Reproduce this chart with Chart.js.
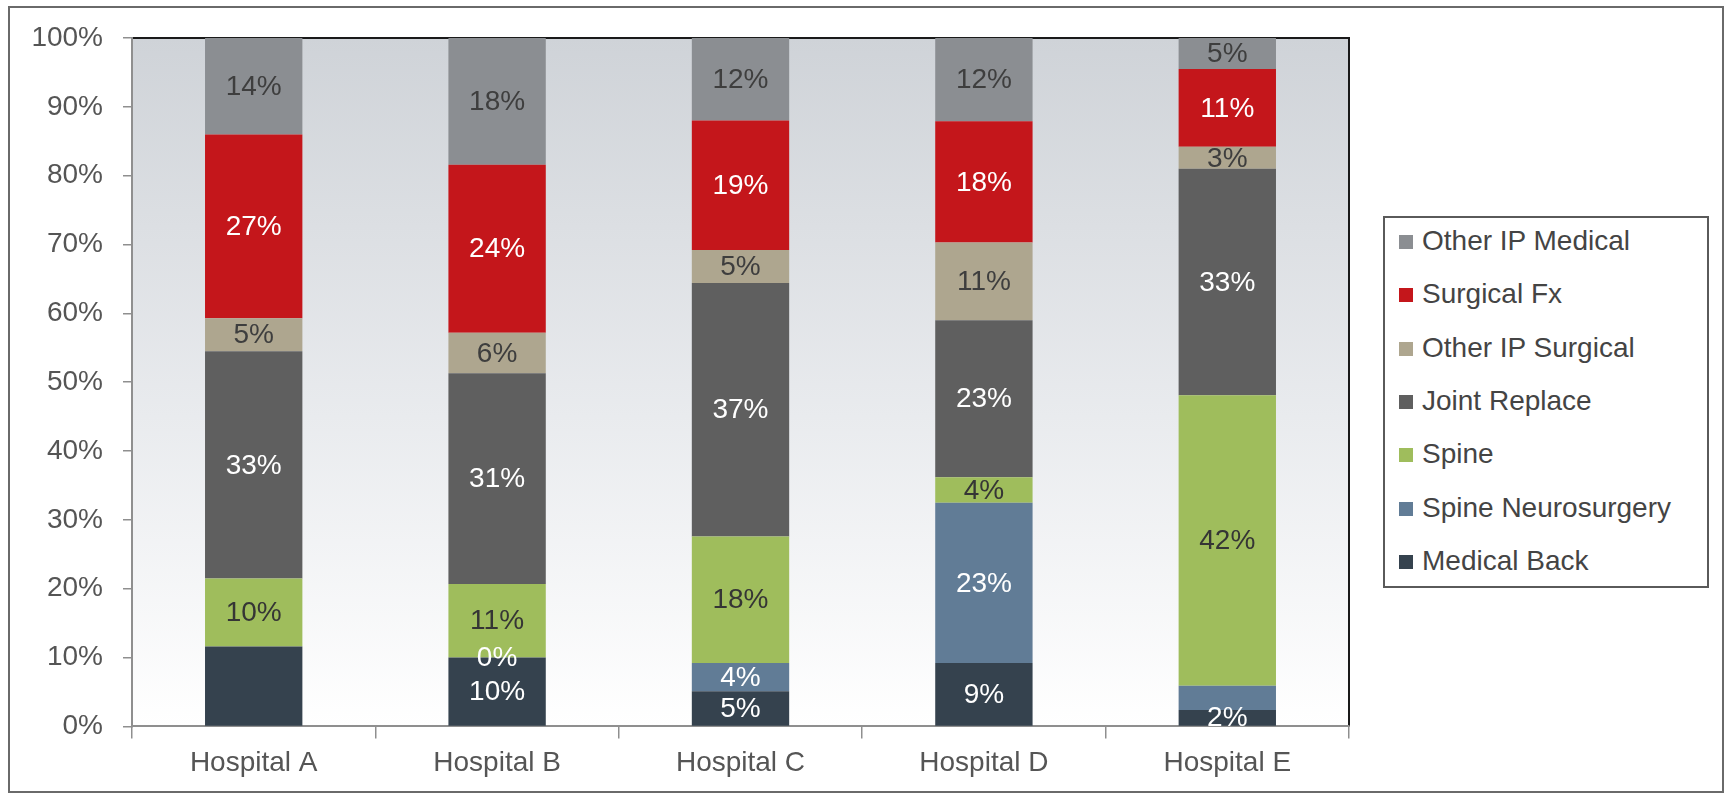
<!DOCTYPE html>
<html>
<head>
<meta charset="utf-8">
<title>Case mix by hospital</title>
<script src="https://cdn.jsdelivr.net/npm/chart.js@4/dist/chart.umd.min.js"></script>
<style>
  body { margin: 0; background: #fff; font-family: "Liberation Sans", Arial, sans-serif; }
  #wrap { position: relative; width: 1731px; height: 795px; }
  #mix { position: absolute; left: 0; top: 0; }
  #frame {
    position: absolute; left: 8px; top: 6px; width: 1716px; height: 787px;
    box-sizing: border-box; border: 2px solid #6a6a6a; pointer-events: none;
  }
  #legend {
    position: absolute; left: 1383px; top: 216px; width: 326px; height: 372px;
    box-sizing: border-box; border: 2px solid #5a5a5a; background: #fff;
  }
  .item { position: absolute; left: 14px; height: 34px; line-height: 34px; font-size: 28px; color: #444; white-space: nowrap; }
  .item span { display: inline-block; width: 14px; height: 14px; margin-right: 9px; vertical-align: 1px; }
</style>
</head>
<body>
<div id="wrap">
  <canvas id="mix" width="1731" height="795"></canvas>
  <div id="frame"></div>
  <div id="legend"></div>
</div>
<script>
const hospitals = ["Hospital A", "Hospital B", "Hospital C", "Hospital D", "Hospital E"];

// share of cases per service line, % of each hospital
const medicalBack = [11.6, 10.0, 5.1, 9.2, 2.4];
const spineNeuro = [0, 0, 4.1, 23.3, 3.5];
const spine = [9.9, 10.7, 18.4, 3.7, 42.2];
const jointReplace = [33.0, 30.6, 36.8, 22.8, 32.9];
const otherSurgical = [4.8, 5.9, 4.8, 11.3, 3.2];
const surgicalFx = [26.7, 24.4, 18.8, 17.6, 11.3];
const otherMedical = [14.0, 18.4, 12.0, 12.1, 4.5];

const yTicks = [0, 10, 20, 30, 40, 50, 60, 70, 80, 90, 100];

// segments that carry no value label
const noLabel = {
  "Medical Back": ["Hospital A"],
  "Spine Neurosurgery": ["Hospital A", "Hospital E"],
};

const FONT = '"Liberation Sans", Arial, sans-serif';

const series = [
  { label: "Medical Back", data: medicalBack, color: "#35424e", text: "#ffffff" },
  { label: "Spine Neurosurgery", data: spineNeuro, color: "#617c96", text: "#ffffff" },
  { label: "Spine", data: spine, color: "#9fbd5c", text: "#353535" },
  { label: "Joint Replace", data: jointReplace, color: "#5f5f5f", text: "#ffffff" },
  { label: "Other IP Surgical", data: otherSurgical, color: "#aea68f", text: "#3e3e3e" },
  { label: "Surgical Fx", data: surgicalFx, color: "#c4161b", text: "#ffffff" },
  { label: "Other IP Medical", data: otherMedical, color: "#8b8e92", text: "#3e3e3e" },
];

// plot background, gray at the top fading to white, plus the top/right frame lines
const plotBackground = {
  id: "plotBackground",
  beforeDraw(chart) {
    const { ctx, chartArea: a } = chart;
    ctx.save();
    ctx.fillStyle = "#fff";
    ctx.fillRect(0, 0, chart.width, chart.height);
    const g = ctx.createLinearGradient(0, a.top, 0, a.bottom);
    g.addColorStop(0, "#cfd3d8");
    g.addColorStop(0.55, "#e9ebee");
    g.addColorStop(1, "#ffffff");
    ctx.fillStyle = g;
    ctx.fillRect(a.left, a.top, a.width, a.height);
    ctx.strokeStyle = "#1a1a1a";
    ctx.lineWidth = 2;
    ctx.beginPath();
    ctx.moveTo(a.left, a.top);
    ctx.lineTo(a.right, a.top);
    ctx.lineTo(a.right, a.bottom);
    ctx.stroke();
    ctx.restore();
  },
};

// percentage written in the middle of each segment
const barLabels = {
  id: "barLabels",
  afterDatasetsDraw(chart) {
    const { ctx, chartArea: a } = chart;
    ctx.save();
    ctx.beginPath();
    ctx.rect(a.left, a.top, a.width, a.height);
    ctx.clip();
    ctx.font = "28px " + FONT;
    ctx.textAlign = "center";
    ctx.textBaseline = "middle";
    chart.data.datasets.forEach((ds, i) => {
      const skip = noLabel[ds.label] || [];
      chart.getDatasetMeta(i).data.forEach((bar, j) => {
        if (skip.includes(hospitals[j])) return;
        ctx.fillStyle = series[i].text;
        ctx.fillText(Math.round(ds.data[j]) + "%", bar.x, (bar.y + bar.base) / 2 + 1);
      });
    });
    ctx.restore();
  },
};

new Chart("mix", {
  type: "bar",
  data: {
    labels: hospitals,
    datasets: series.map((s) => ({
      label: s.label,
      data: s.data,
      backgroundColor: s.color,
      borderWidth: 0,
      barPercentage: 0.4,
      categoryPercentage: 1,
    })),
  },
  options: {
    responsive: false,
    animation: false,
    layout: { padding: { top: 38, right: 382, bottom: 7, left: 0 } },
    plugins: {
      legend: { display: false },
      tooltip: { enabled: false },
    },
    scales: {
      x: {
        stacked: true,
        grid: { drawOnChartArea: false, tickLength: 12, color: "#8f8f8f", lineWidth: 1.5 },
        border: { color: "#8f8f8f", width: 2 },
        ticks: { color: "#555", font: { family: FONT, size: 28 }, padding: 8 },
      },
      y: {
        stacked: true,
        min: 0,
        max: 100,
        afterBuildTicks: (scale) => {
          scale.ticks = yTicks.map((v) => ({ value: v }));
        },
        afterFit: (scale) => {
          scale.width = 132;
        },
        grid: { drawOnChartArea: false, tickLength: 9, color: "#8f8f8f", lineWidth: 1.5 },
        border: { color: "#8f8f8f", width: 2 },
        ticks: {
          color: "#555",
          font: { family: FONT, size: 28 },
          padding: 20,
          callback: (v) => v + "%",
        },
      },
    },
  },
  plugins: [plotBackground, barLabels],
});

// legend box, top series first
const legend = document.getElementById("legend");
series.slice().reverse().forEach((s, i) => {
  const row = document.createElement("div");
  row.className = "item";
  row.style.top = 6 + i * 53.3 + "px";
  row.innerHTML = `<span style="background:${s.color}"></span>${s.label}`;
  legend.appendChild(row);
});
</script>
</body>
</html>
